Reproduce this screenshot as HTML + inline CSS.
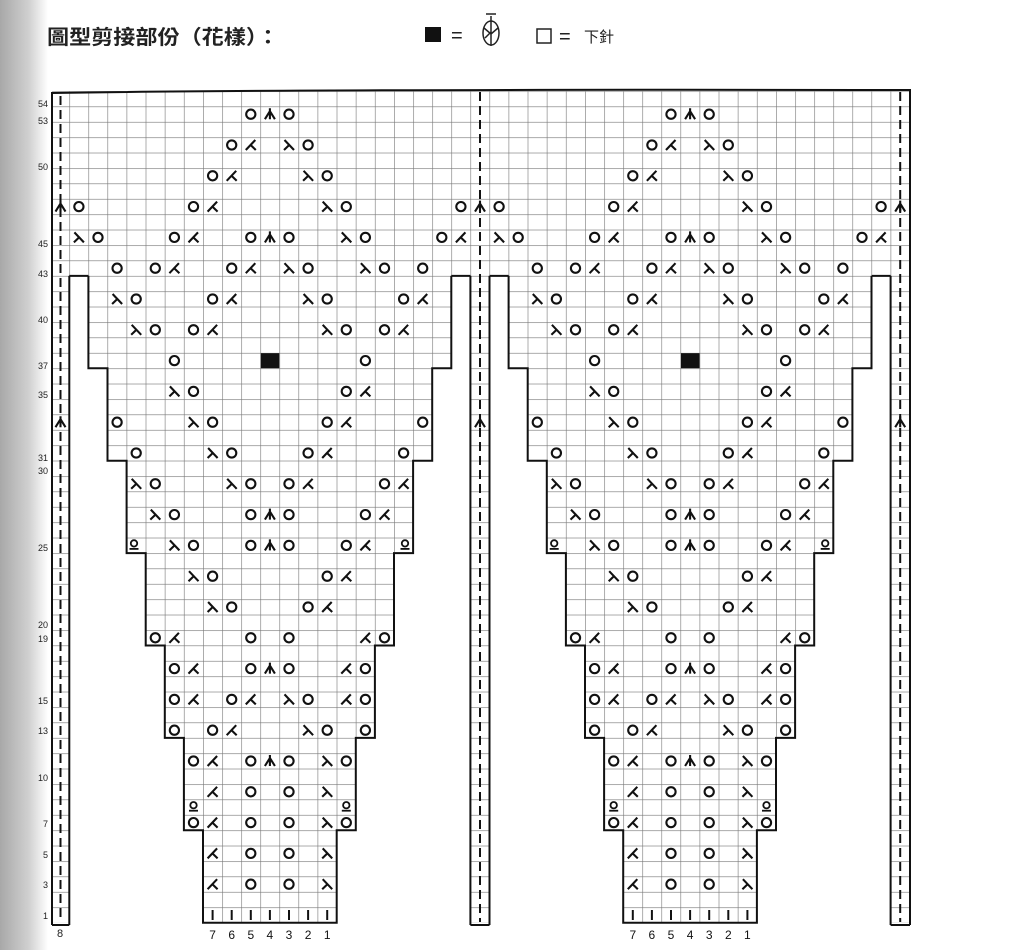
<!DOCTYPE html>
<html><head><meta charset="utf-8"><style>
html,body{margin:0;padding:0;background:#fff;}
body{width:1018px;height:950px;overflow:hidden;position:relative;}
svg{position:absolute;left:0;top:0;}
</style></head><body>
<svg width="1018" height="950" viewBox="0 0 1018 950" xmlns="http://www.w3.org/2000/svg">
<defs>
<linearGradient id="shade" x1="0" x2="1" y1="0" y2="0">
<stop offset="0" stop-color="#a8a8a8"/><stop offset="0.6" stop-color="#d0d0d0"/><stop offset="1" stop-color="#fff"/>
</linearGradient>
<pattern id="grid" patternUnits="userSpaceOnUse" x="69.3" y="91.1" width="19.1" height="15.4">
<rect width="19.1" height="15.4" fill="#fff"/>
<path d="M0,0 V15.4 M0,0 H19.1" stroke="#777" stroke-width="1.2" fill="none"/>
</pattern>
<g id="o"><circle r="4.6" fill="none" stroke="#111" stroke-width="2.1"/></g>
<g id="L"><path d="M-4.5,-5 L5,5 M0.2,0 L-5,5" fill="none" stroke="#111" stroke-width="2.1"/></g>
<g id="K"><path d="M4.5,-5 L-5,5 M-0.2,0 L5,5" fill="none" stroke="#111" stroke-width="2.1"/></g>
<g id="T"><path d="M0,-6 V5 M0,-3 L-5,5 M0,-3 L5,5" fill="none" stroke="#111" stroke-width="2.1"/></g>
<g id="Q"><circle cy="-2" r="3.2" fill="none" stroke="#111" stroke-width="1.8"/><path d="M-4.5,3.5 H4.5" stroke="#111" stroke-width="1.8"/></g>
<g id="I"><path d="M0,-5 V5" stroke="#111" stroke-width="2"/></g>

<g id="panel">
<use href="#o" x="250.8" y="114.2"/><use href="#T" x="269.9" y="114.2"/><use href="#o" x="289.0" y="114.2"/>
<use href="#o" x="231.7" y="145"/><use href="#K" x="250.8" y="145"/><use href="#L" x="289.0" y="145"/><use href="#o" x="308.1" y="145"/>
<use href="#o" x="212.6" y="175.8"/><use href="#K" x="231.7" y="175.8"/><use href="#L" x="308.1" y="175.8"/><use href="#o" x="327.2" y="175.8"/>
<use href="#o" x="78.9" y="206.6"/><use href="#o" x="193.5" y="206.6"/><use href="#K" x="212.6" y="206.6"/><use href="#L" x="327.2" y="206.6"/><use href="#o" x="346.3" y="206.6"/><use href="#o" x="460.9" y="206.6"/>
<use href="#L" x="78.9" y="237.4"/><use href="#o" x="98.0" y="237.4"/><use href="#o" x="174.4" y="237.4"/><use href="#K" x="193.5" y="237.4"/>
<use href="#o" x="250.8" y="237.4"/><use href="#T" x="269.9" y="237.4"/><use href="#o" x="289.0" y="237.4"/>
<use href="#L" x="346.3" y="237.4"/><use href="#o" x="365.4" y="237.4"/><use href="#o" x="441.8" y="237.4"/><use href="#K" x="460.9" y="237.4"/>
<use href="#o" x="117.1" y="268.2"/><use href="#o" x="155.3" y="268.2"/><use href="#K" x="174.4" y="268.2"/><use href="#o" x="231.7" y="268.2"/><use href="#K" x="250.8" y="268.2"/>
<use href="#L" x="289.0" y="268.2"/><use href="#o" x="308.1" y="268.2"/><use href="#L" x="365.4" y="268.2"/><use href="#o" x="384.5" y="268.2"/><use href="#o" x="422.7" y="268.2"/>
<use href="#L" x="117.1" y="299"/><use href="#o" x="136.2" y="299"/><use href="#o" x="212.6" y="299"/><use href="#K" x="231.7" y="299"/>
<use href="#L" x="308.1" y="299"/><use href="#o" x="327.2" y="299"/><use href="#o" x="403.6" y="299"/><use href="#K" x="422.7" y="299"/>
<use href="#L" x="136.2" y="329.8"/><use href="#o" x="155.3" y="329.8"/><use href="#o" x="193.5" y="329.8"/><use href="#K" x="212.6" y="329.8"/>
<use href="#L" x="327.2" y="329.8"/><use href="#o" x="346.3" y="329.8"/><use href="#o" x="384.5" y="329.8"/><use href="#K" x="403.6" y="329.8"/>
<use href="#o" x="174.4" y="360.6"/><rect x="260.8" y="353.2" width="18.5" height="15" fill="#111"/><use href="#o" x="365.4" y="360.6"/>
<use href="#L" x="174.4" y="391.4"/><use href="#o" x="193.5" y="391.4"/><use href="#o" x="346.3" y="391.4"/><use href="#K" x="365.4" y="391.4"/>
<use href="#o" x="117.1" y="422.2"/><use href="#L" x="193.5" y="422.2"/><use href="#o" x="212.6" y="422.2"/><use href="#o" x="327.2" y="422.2"/><use href="#K" x="346.3" y="422.2"/><use href="#o" x="422.7" y="422.2"/>
<use href="#o" x="136.2" y="453"/><use href="#L" x="212.6" y="453"/><use href="#o" x="231.7" y="453"/><use href="#o" x="308.1" y="453"/><use href="#K" x="327.2" y="453"/><use href="#o" x="403.6" y="453"/>
<use href="#L" x="136.2" y="483.8"/><use href="#o" x="155.3" y="483.8"/><use href="#L" x="231.7" y="483.8"/><use href="#o" x="250.8" y="483.8"/>
<use href="#o" x="289.0" y="483.8"/><use href="#K" x="308.1" y="483.8"/><use href="#o" x="384.5" y="483.8"/><use href="#K" x="403.6" y="483.8"/>
<use href="#L" x="155.3" y="514.6"/><use href="#o" x="174.4" y="514.6"/><use href="#o" x="250.8" y="514.6"/><use href="#T" x="269.9" y="514.6"/><use href="#o" x="289.0" y="514.6"/><use href="#o" x="365.4" y="514.6"/><use href="#K" x="384.5" y="514.6"/>
<use href="#Q" x="134" y="545.4"/><use href="#L" x="174.4" y="545.4"/><use href="#o" x="193.5" y="545.4"/><use href="#o" x="250.8" y="545.4"/><use href="#T" x="269.9" y="545.4"/><use href="#o" x="289.0" y="545.4"/>
<use href="#o" x="346.3" y="545.4"/><use href="#K" x="365.4" y="545.4"/><use href="#Q" x="405" y="545.4"/>
<use href="#L" x="193.5" y="576.2"/><use href="#o" x="212.6" y="576.2"/><use href="#o" x="327.2" y="576.2"/><use href="#K" x="346.3" y="576.2"/>
<use href="#L" x="212.6" y="607"/><use href="#o" x="231.7" y="607"/><use href="#o" x="308.1" y="607"/><use href="#K" x="327.2" y="607"/>
<use href="#o" x="155.3" y="637.8"/><use href="#K" x="174.4" y="637.8"/><use href="#o" x="250.8" y="637.8"/><use href="#o" x="289.0" y="637.8"/><use href="#K" x="365.4" y="637.8"/><use href="#o" x="384.5" y="637.8"/>
<use href="#o" x="174.4" y="668.6"/><use href="#K" x="193.5" y="668.6"/><use href="#o" x="250.8" y="668.6"/><use href="#T" x="269.9" y="668.6"/><use href="#o" x="289.0" y="668.6"/><use href="#K" x="346.3" y="668.6"/><use href="#o" x="365.4" y="668.6"/>
<use href="#o" x="174.4" y="699.4"/><use href="#K" x="193.5" y="699.4"/><use href="#o" x="231.7" y="699.4"/><use href="#K" x="250.8" y="699.4"/>
<use href="#L" x="289.0" y="699.4"/><use href="#o" x="308.1" y="699.4"/><use href="#K" x="346.3" y="699.4"/><use href="#o" x="365.4" y="699.4"/>
<use href="#o" x="174.4" y="730.2"/><use href="#o" x="212.6" y="730.2"/><use href="#K" x="231.7" y="730.2"/><use href="#L" x="308.1" y="730.2"/><use href="#o" x="327.2" y="730.2"/><use href="#o" x="365.4" y="730.2"/>
<use href="#o" x="193.5" y="761"/><use href="#K" x="212.6" y="761"/><use href="#o" x="250.8" y="761"/><use href="#T" x="269.9" y="761"/><use href="#o" x="289.0" y="761"/><use href="#L" x="327.2" y="761"/><use href="#o" x="346.3" y="761"/>
<use href="#K" x="212.6" y="791.8"/><use href="#o" x="250.8" y="791.8"/><use href="#o" x="289.0" y="791.8"/><use href="#L" x="327.2" y="791.8"/>
<use href="#Q" x="193.5" y="807.2"/><use href="#Q" x="346.3" y="807.2"/>
<use href="#o" x="193.5" y="822.6"/><use href="#K" x="212.6" y="822.6"/><use href="#o" x="250.8" y="822.6"/><use href="#o" x="289.0" y="822.6"/><use href="#L" x="327.2" y="822.6"/><use href="#o" x="346.3" y="822.6"/>
<use href="#K" x="212.6" y="853.4"/><use href="#o" x="250.8" y="853.4"/><use href="#o" x="289.0" y="853.4"/><use href="#L" x="327.2" y="853.4"/>
<use href="#K" x="212.6" y="884.2"/><use href="#o" x="250.8" y="884.2"/><use href="#o" x="289.0" y="884.2"/><use href="#L" x="327.2" y="884.2"/>
<use href="#I" x="212.6" y="915"/><use href="#I" x="231.7" y="915"/><use href="#I" x="250.8" y="915"/><use href="#I" x="269.9" y="915"/><use href="#I" x="289.0" y="915"/><use href="#I" x="308.1" y="915"/><use href="#I" x="327.2" y="915"/>
<g font-family="Liberation Sans, sans-serif" font-size="12" fill="#111" text-anchor="middle">
<text x="212.6" y="939">7</text><text x="231.7" y="939">6</text><text x="250.8" y="939">5</text><text x="269.9" y="939">4</text><text x="289.0" y="939">3</text><text x="308.1" y="939">2</text><text x="327.2" y="939">1</text>
</g>
</g>
</defs>

<rect x="0" y="0" width="48" height="950" fill="url(#shade)"/>

<text x="47" y="44" font-family="Liberation Sans, 'Noto Sans CJK TC', sans-serif" font-size="20" font-weight="bold" fill="#222" textLength="232" lengthAdjust="spacingAndGlyphs">圖型剪接部份（花樣）：</text>
<rect x="425" y="27" width="16" height="15" fill="#111"/>
<text x="451" y="42" font-family="Liberation Sans, sans-serif" font-size="20" fill="#222">=</text>
<g fill="none" stroke="#222" stroke-width="1.5">
<ellipse cx="491" cy="33" rx="8" ry="12"/>
<path d="M486,14 H496 M491,16 V46 M484,28 L491,34 L498,28 M485,38 L491,32"/>
</g>
<rect x="537" y="29" width="14" height="14" fill="none" stroke="#222" stroke-width="1.5"/>
<text x="559" y="43" font-family="Liberation Sans, sans-serif" font-size="20" fill="#222">=</text>
<text x="584" y="42" font-family="Liberation Sans, 'Noto Sans CJK TC', sans-serif" font-size="15" fill="#222">下針</text>

<rect x="52" y="91.1" width="858" height="831.6" fill="url(#grid)"/>
<rect x="69.3" y="275.9" width="401.1" height="680" fill="#fff"/>
<rect x="489.5" y="275.9" width="401.1" height="680" fill="#fff"/>
<g id="shapeL">
<polygon points="88.4,275.9 451.3,275.9 451.3,368.3 432.2,368.3 432.2,460.7 413.1,460.7 413.1,553.1 394,553.1 394,645.5 374.9,645.5 374.9,737.9 355.8,737.9 355.8,830.3 336.7,830.3 336.7,922.7 203,922.7 203,830.3 183.9,830.3 183.9,737.9 164.8,737.9 164.8,645.5 145.7,645.5 145.7,553.1 126.6,553.1 126.6,460.7 107.5,460.7 107.5,368.3 88.4,368.3" fill="url(#grid)"/>
<polyline points="88.4,275.9 88.4,368.3 107.5,368.3 107.5,460.7 126.6,460.7 126.6,553.1 145.7,553.1 145.7,645.5 164.8,645.5 164.8,737.9 183.9,737.9 183.9,830.3 203,830.3 203,922.7 336.7,922.7 336.7,830.3 355.8,830.3 355.8,737.9 374.9,737.9 374.9,645.5 394,645.5 394,553.1 413.1,553.1 413.1,460.7 432.2,460.7 432.2,368.3 451.3,368.3 451.3,275.9" fill="none" stroke="#111" stroke-width="2"/>
</g>
<use href="#shapeL" x="420.2" y="0"/>
<rect x="52" y="922.7" width="17.3" height="3" fill="#fff"/>
<g stroke="#111" stroke-width="2" fill="none">
<path d="M69.3,275.9 V925 M470.4,275.9 V925 M489.5,275.9 V925 M890.6,275.9 V925"/>
<path d="M69.3,275.9 H88.4 M451.3,275.9 H470.4 M489.5,275.9 H508.6 M871.5,275.9 H890.6"/>
<path d="M52,925 V93 Q300,89 910,90 V925"/>
<path d="M52,925 H69.3 M470.4,925 H489.5 M890.6,925 H910"/>
</g>
<g stroke="#111" stroke-width="2" stroke-dasharray="9,5">
<path d="M60.5,96 V922 M480,92 V922 M900.2,92 V922"/>
</g>
<use href="#panel"/>
<use href="#panel" x="420.2" y="0"/>
<use href="#T" x="60.5" y="206.6"/><use href="#T" x="480" y="206.6"/><use href="#T" x="900.2" y="206.6"/>
<use href="#T" x="60.5" y="422.2"/><use href="#T" x="480" y="422.2"/><use href="#T" x="900.2" y="422.2"/>
<g font-family="Liberation Sans, sans-serif" font-size="9" fill="#222" text-anchor="end">
<text x="48" y="107">54</text><text x="48" y="124">53</text><text x="48" y="170">50</text><text x="48" y="247">45</text>
<text x="48" y="277">43</text><text x="48" y="323">40</text><text x="48" y="369">37</text><text x="48" y="398">35</text>
<text x="48" y="461">31</text><text x="48" y="474">30</text><text x="48" y="551">25</text><text x="48" y="628">20</text>
<text x="48" y="642">19</text><text x="48" y="704">15</text><text x="48" y="734">13</text><text x="48" y="781">10</text>
<text x="48" y="827">7</text><text x="48" y="858">5</text><text x="48" y="888">3</text><text x="48" y="919">1</text>
</g>
<text x="60" y="937" font-family="Liberation Sans, sans-serif" font-size="11" fill="#222" text-anchor="middle">8</text>
</svg>
</body></html>
